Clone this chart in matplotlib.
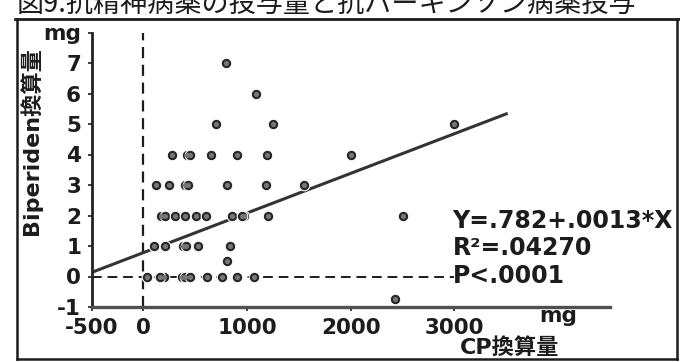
import matplotlib
matplotlib.use('Agg')
import matplotlib.pyplot as plt
from matplotlib.lines import Line2D

plt.rcParams['font.family'] = ['DejaVu Sans', 'Noto Sans CJK JP']

# CP equivalent dose (mg) vs biperiden equivalent dose (mg)
# points listed so that partly hidden ones come first
cp_mg = [200, 36, 161, 368, 400, 453, 617, 759, 904, 1065,
         810,
         103, 206, 380, 409, 531, 839,
         170, 209, 306, 403, 506, 605, 975, 852, 949, 1200, 2500,
         120, 245, 400, 434, 810, 1186, 1550,
         277, 423, 453, 650, 900, 1193, 2000,
         698, 1248, 3000,
         1090, 797,
         2430]
biperiden_mg = [0, 0, 0, 0, 0, 0, 0, 0, 0, 0,
                0.5,
                1, 1, 1, 1, 1, 1,
                2, 2, 2, 2, 2, 2, 2, 2, 2, 2, 2,
                3, 3, 3, 3, 3, 3, 3,
                4, 4, 4, 4, 4, 4, 4,
                5, 5, 5,
                6, 7,
                -0.75]

intercept = 0.782
slope = 0.0013
fit_range = [-500, 3500]
zero_line_end = 3000

x_ticks = [-500, 0, 1000, 2000, 3000]
x_labels = ['-500', '0', '1000', '2000', '3000']
y_ticks = [-1, 0, 1, 2, 3, 4, 5, 6, 7, 8]
y_labels = ['-1', '0', '1', '2', '3', '4', '5', '6', '7', 'mg']

stats_lines = ['Y=.782+.0013*X', 'R²=.04270', 'P<.0001']

W, H = 680, 362
ink = '#1c1c1c'

fig = plt.figure(figsize=(6.8, 3.62), dpi=100)
ax = fig.add_axes([91.5 / W, 1 - 307 / H, (610 - 91.5) / W, (307 - 32.5) / H])
ax.set_xlim(-500, 4500)
ax.set_ylim(-1, 8)

# reference lines
ax.plot([0, 0], [-1, 8], color=ink, lw=1.6, ls=(0, (5, 3)), zorder=1)
ax.plot([-500, zero_line_end], [0, 0], color=ink, lw=1.4, ls=(0, (5, 3)), zorder=1)

# regression line
fx = fit_range
fy = [intercept + slope * v for v in fx]
ax.plot(fx, fy, color='#333333', lw=2.2, zorder=2)

# points
ax.scatter(cp_mg, biperiden_mg, s=58, c='#262626', edgecolors='white',
           linewidths=0.8, zorder=3)
ax.scatter(cp_mg, biperiden_mg, s=14, c='#767676', linewidths=0, zorder=4)

for s in ['top', 'right']:
    ax.spines[s].set_visible(False)
ax.spines['left'].set_linewidth(2)
ax.spines['left'].set_color('#222222')
ax.spines['bottom'].set_linewidth(2.4)
ax.spines['bottom'].set_color('#505050')

ax.set_xticks(x_ticks)
ax.set_xticklabels(x_labels, fontsize=15.5, fontweight='bold', color=ink)
ax.set_yticks(y_ticks)
ax.set_yticklabels(y_labels, fontsize=15.5, fontweight='bold', color=ink)
ax.tick_params(axis='x', length=3, width=1.2, pad=5, colors=ink)
ax.tick_params(axis='y', length=3, width=1.2, pad=4.5, colors=ink)

# statistics text
for i, line in enumerate(stats_lines):
    ax.text(0.696, 0.287 - i * 0.099, line, transform=ax.transAxes,
            fontsize=17, fontweight='bold', color=ink, va='baseline', ha='left')

# axis labels
fig.text(558 / W, 1 - 316 / H, 'mg', fontsize=15.5, fontweight='bold',
         color=ink, ha='center', va='center')
fig.text(510 / W, 1 - 348 / H, 'CP換算量', fontsize=16, fontweight='bold',
         color=ink, ha='center', va='center')
fig.text(31 / W, 1 - 141 / H, 'Biperiden換算量', fontsize=16, fontweight='bold',
         color=ink, ha='center', va='center', rotation=90)

# title of the scanned page, cut off at the top edge as in the scan
fig.text(17 / W, 1 - 13 / H, '図9.抗精神病薬の投与量と抗パーキンソン病薬投与',
         fontsize=19.5, color=ink, ha='left', va='baseline',
         family=['Noto Sans CJK JP', 'DejaVu Sans'])

# frame and underline
fig.add_artist(Line2D([15 / W, 1], [1 - 19 / H] * 2, color=ink, lw=2))
fig.add_artist(Line2D([17 / W, 17 / W], [1 - 19 / H, 1 - 359 / H], color=ink, lw=1.8))
fig.add_artist(Line2D([677 / W, 677 / W], [1 - 19 / H, 1 - 359 / H], color=ink, lw=1.8))
fig.add_artist(Line2D([17 / W, 677 / W], [1 - 359 / H] * 2, color=ink, lw=1.8))

fig.savefig('out.png', dpi=100)
